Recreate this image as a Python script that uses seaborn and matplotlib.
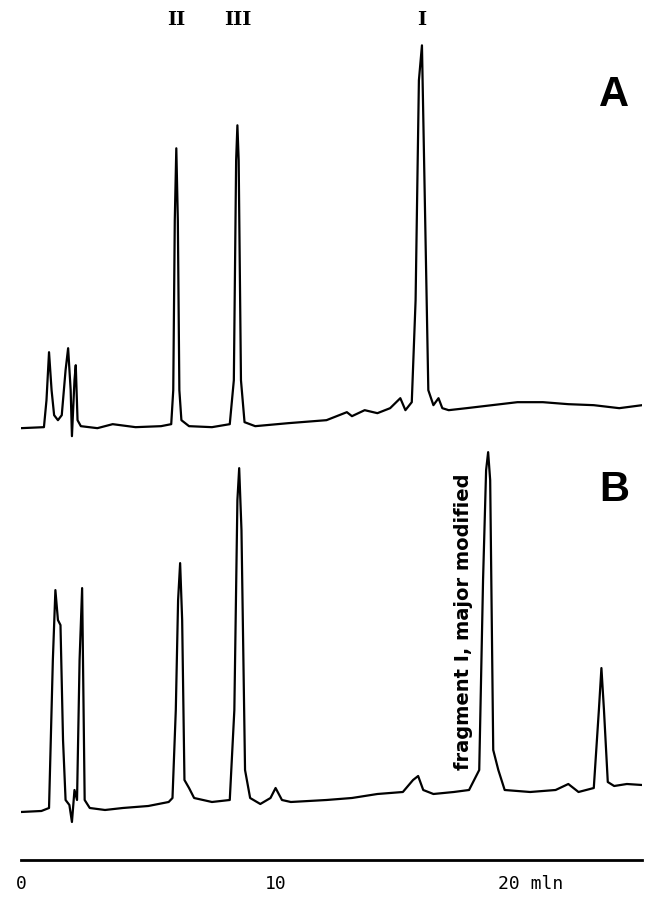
import numpy as np
import pandas as pd
import matplotlib
matplotlib.use("Agg")
import matplotlib.pyplot as plt
import seaborn as sns

sns.set_style("white")

# Trace A (retention time in min, detector response in arbitrary units)
tA = [0.0, 0.9, 1.0, 1.1, 1.2, 1.3, 1.45, 1.6, 1.75, 1.85, 1.95, 2.0, 2.1, 2.15, 2.22, 2.35, 3.0, 3.6, 4.5, 5.5,
      5.9, 5.98, 6.04, 6.1, 6.16, 6.22, 6.3, 6.6, 7.5, 8.2, 8.36, 8.45, 8.5, 8.55, 8.64, 8.78, 9.2, 10.5, 12.0,
      12.8, 13.0, 13.5, 14.0, 14.5, 14.9, 15.1, 15.35, 15.5, 15.63, 15.75, 15.87, 16.0, 16.2, 16.4, 16.55, 16.8,
      17.5, 18.5, 19.5, 20.5, 21.5, 22.5, 23.5, 24.4]
yA = [432, 433, 460, 508, 470, 445, 440, 445, 490, 512, 470, 424, 480, 495, 440, 434, 432, 436, 433, 434,
      436, 470, 640, 712, 640, 470, 440, 434, 433, 436, 480, 700, 735, 700, 480, 438, 434, 437, 440,
      448, 444, 450, 447, 452, 462, 450, 458, 560, 780, 815, 650, 470, 455, 462, 452, 450,
      452, 455, 458, 458, 456, 455, 452, 455]

# Trace B
tB = [0.0, 0.8, 1.1, 1.25, 1.35, 1.45, 1.55, 1.65, 1.75, 1.9, 2.0, 2.1, 2.2, 2.3, 2.4, 2.5, 2.7, 3.3, 4.0, 5.0, 5.8, 5.95,
      6.08, 6.17, 6.25, 6.33, 6.42, 6.6, 6.8, 7.5, 8.2, 8.38, 8.5, 8.57, 8.66, 8.8, 9.0, 9.4, 9.8, 10.0, 10.25, 10.6,
      12.0, 13.0, 14.0, 15.0, 15.4, 15.6, 15.8, 16.2, 17.0, 17.6, 18.0, 18.15, 18.27, 18.35, 18.43, 18.55, 18.75,
      19.0, 20.0, 21.0, 21.5, 21.9, 22.5, 22.7, 22.8, 22.9, 23.05, 23.3, 23.8, 24.4]
yB = [48, 49, 52, 200, 270, 240, 235, 120, 60, 55, 38, 70, 60, 200, 272, 60, 52, 50, 52, 54, 58, 62,
      150, 260, 297, 240, 80, 72, 62, 58, 60, 150, 360, 392, 330, 90, 62, 56, 62, 72, 60, 58,
      60, 62, 66, 68, 80, 84, 70, 66, 68, 70, 90, 280, 390, 408, 380, 110, 90,
      70, 68, 70, 76, 68, 72, 150, 192, 150, 78, 74, 76, 75]

peak_labels = ["II", "III", "I"]
peak_times = [6.1, 8.5, 15.75]

fig = plt.figure(figsize=(6.47, 9.02), dpi=100)
ax = fig.add_axes([0.0325, 0.0466, 0.96, 0.953])
dfA = pd.DataFrame({"t": tA, "y": yA})
dfB = pd.DataFrame({"t": tB, "y": yB})
sns.lineplot(data=dfA, x="t", y="y", ax=ax, color="black", lw=1.6, estimator=None, sort=False)
sns.lineplot(data=dfB, x="t", y="y", ax=ax, color="black", lw=1.6, estimator=None, sort=False)
ax.set_xlim(0, 24.4)
ax.set_ylim(0, 860)
ax.set_xlabel("")
ax.set_ylabel("")
ax.set_yticks([])
ax.set_xticks([0, 10, 20])
ax.set_xticklabels(["0", "10", "20 mln"], family="DejaVu Sans Mono", fontsize=13, color="black")
ax.tick_params(axis="x", direction="out", length=5, width=2, pad=6, colors="black")
for s in ["top", "right", "left"]:
    ax.spines[s].set_visible(False)
ax.spines["bottom"].set_linewidth(2)
ax.spines["bottom"].set_color("black")

for lab, t in zip(peak_labels, peak_times):
    ax.text(t, 840, lab, ha="center", va="center", fontsize=14, fontweight="bold", family="DejaVu Serif", color="black")
ax.text(23.3, 765, "A", ha="center", va="center", fontsize=30, fontweight="bold", family="Liberation Sans", color="black")
ax.text(23.3, 370, "B", ha="center", va="center", fontsize=30, fontweight="bold", family="Liberation Sans", color="black")
ax.text(17.4, 90, "fragment I, major modified", rotation=90, ha="center", va="bottom",
        fontsize=14, fontweight="bold", family="DejaVu Sans", color="black")

fig.savefig("out.png", dpi=100)
